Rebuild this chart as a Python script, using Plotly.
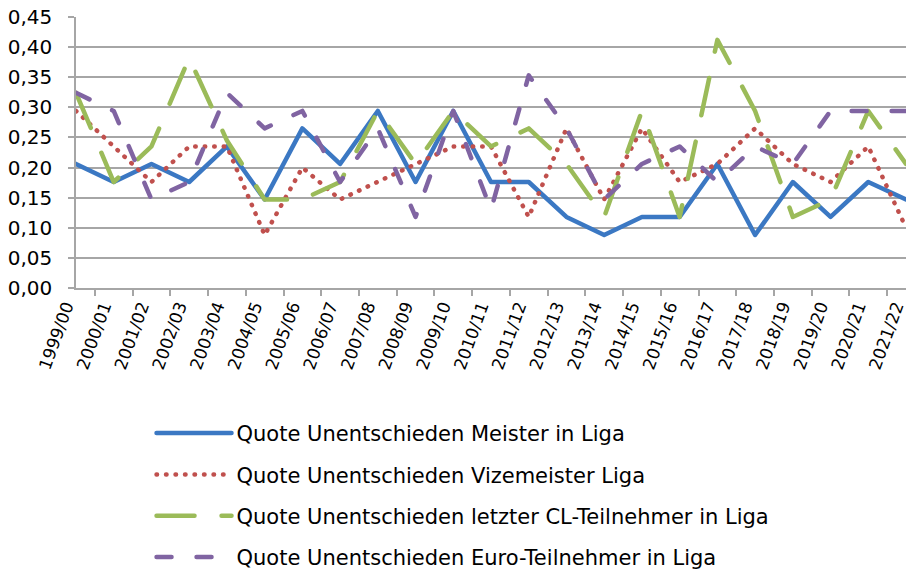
import plotly.graph_objects as go

seasons = ["1999/00", "2000/01", "2001/02", "2002/03", "2003/04", "2004/05", "2005/06",
           "2006/07", "2007/08", "2008/09", "2009/10", "2010/11", "2011/12", "2012/13",
           "2013/14", "2014/15", "2015/16", "2016/17", "2017/18", "2018/19", "2019/20",
           "2020/21", "2021/22"]

meister = [0.206, 0.176, 0.206, 0.176, 0.235, 0.147, 0.265, 0.206, 0.294, 0.176, 0.294, 0.176,
           0.176, 0.118, 0.088, 0.118, 0.118, 0.206, 0.088, 0.176, 0.118, 0.176, 0.147]
vizemeister = [0.294, 0.235, 0.176, 0.235, 0.235, 0.088, 0.200, 0.147, 0.176, 0.206, 0.235, 0.235,
               0.118, 0.265, 0.147, 0.265, 0.176, 0.206, 0.265, 0.206, 0.176, 0.235, 0.100]
letzter_cl = [0.324, 0.176, 0.235, 0.382, 0.245, 0.147, 0.147, 0.176, 0.294, 0.206, 0.294, 0.235,
              0.265, 0.206, 0.118, 0.294, 0.118, 0.412, 0.294, 0.118, 0.147, 0.294, 0.206]
euro = [0.324, 0.294, 0.147, 0.176, 0.324, 0.265, 0.294, 0.176, 0.265, 0.118, 0.294, 0.130,
        0.353, 0.265, 0.147, 0.206, 0.235, 0.176, 0.235, 0.206, 0.294, 0.294, 0.294]

names = ["Quote Unentschieden Meister in Liga",
         "Quote Unentschieden Vizemeister Liga",
         "Quote Unentschieden letzter CL-Teilnehmer in Liga",
         "Quote Unentschieden Euro-Teilnehmer in Liga"]

y_ticks = [0, 0.05, 0.10, 0.15, 0.20, 0.25, 0.30, 0.35, 0.40, 0.45]

# dash patterns assume round line caps (set by the small script below)
series = [
    (meister, "#3b78c3", "solid"),
    (vizemeister, "#c0504d", "0.5px,9px"),
    (letzter_cl, "#9bbb59", "38px,27px"),
    (euro, "#8064a2", "15px,25px"),
]

fig = go.Figure()
for i, (vals, color, dash) in enumerate(series):
    fig.add_trace(go.Scatter(x=seasons, y=vals, mode="lines", name=names[i],
                             legendgroup=f"g{i}",
                             line=dict(color=color, width=4.5, dash=dash)))

fig.update_layout(
    width=906, height=574,
    margin=dict(l=76, r=0, t=17, b=286, autoexpand=False),
    plot_bgcolor="white", paper_bgcolor="white",
    separators=",.",
    font=dict(family="DejaVu Sans, Arial, sans-serif", size=19, color="black"),
    showlegend=True,
    legend=dict(x=0.091, y=-0.461, xanchor="left", yanchor="top",
                font=dict(size=21), itemwidth=75, tracegroupgap=11,
                traceorder="grouped", bgcolor="rgba(0,0,0,0)"),
    xaxis=dict(type="category", tickangle=-70, tickson="boundaries", automargin=False,
               ticks="outside", ticklen=6, tickcolor="#a6a6a6", tickwidth=1.5,
               ticklabelshift=-10,
               showline=True, linecolor="#a6a6a6", linewidth=1.5,
               showgrid=False, tickfont=dict(size=17)),
    yaxis=dict(range=[0, 0.45], tickvals=y_ticks, tickformat=".2f", automargin=False,
               ticks="outside", ticklen=6, tickcolor="#a6a6a6", tickwidth=1.5,
               ticklabelstandoff=12,
               showline=True, linecolor="#a6a6a6", linewidth=1.5,
               showgrid=True, gridcolor="#a6a6a6", gridwidth=1.5,
               zeroline=False, tickfont=dict(size=20)),
)

# no page margin, round line caps like the original
page_fix = """
document.body.style.margin = '0';
var gd = document.getElementById('{plot_id}');
function rc() {
  gd.querySelectorAll('.js-line').forEach(function (p) {
    p.style.strokeLinecap = 'round';
    p.style.strokeLinejoin = 'round';
  });
}
rc();
gd.on('plotly_afterplot', rc);
"""

fig.write_html("out.html", post_script=page_fix, config={"displayModeBar": False})
